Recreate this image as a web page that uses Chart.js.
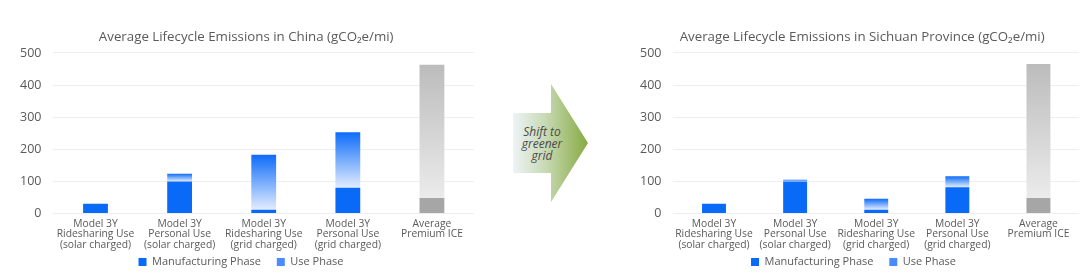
<!DOCTYPE html>
<html>
<head>
<meta charset="utf-8">
<script src="https://cdn.jsdelivr.net/npm/chart.js@4"></script>
<style>
  body { margin: 0; width: 1080px; height: 274px; background: #fff; position: relative; overflow: hidden; }
  #div_china { position: absolute; left: 0; top: 0; width: 508px; height: 274px; }
  #div_sichuan { position: absolute; left: 628px; top: 0; width: 484px; height: 274px; }
  #seta { position: absolute; left: 0; top: 0; }
</style>
</head>
<body>
<svg id="seta" width="1080" height="274">
  <defs>
    <linearGradient id="grad_seta" x1="513" y1="0" x2="588" y2="0" gradientUnits="userSpaceOnUse">
      <stop offset="0" stop-color="#eef3f7"/>
      <stop offset="0.45" stop-color="#c6d8b0"/>
      <stop offset="1" stop-color="#86aa42"/>
    </linearGradient>
  </defs>
  <polygon points="513,113 551,113 551,84 588,143 551,202 551,173 513,173" fill="url(#grad_seta)"/>
  <g font-family="Open Sans" font-style="italic" font-size="12" fill="#4a4a4a" text-anchor="middle">
    <text x="542" y="136">Shift to</text>
    <text x="542" y="148">greener</text>
    <text x="542" y="160">grid</text>
  </g>
</svg>
<div id="div_china"><canvas id="graf_china"></canvas></div>
<div id="div_sichuan"><canvas id="graf_sichuan"></canvas></div>
<script>
// categorias do eixo x (3 linhas cada)
const categorias = [
  ["Model 3Y", "Ridesharing Use", "(solar charged)"],
  ["Model 3Y", "Personal Use", "(solar charged)"],
  ["Model 3Y", "Ridesharing Use", "(grid charged)"],
  ["Model 3Y", "Personal Use", "(grid charged)"],
  ["Average", "Premium ICE"],
];

// China
const manufaturaChina = [30, 100, 12, 80, 48];
const usoChina = [0, 24, 171, 173, 415];

// Sichuan
const manufaturaSichuan = [30, 100, 12, 82, 48];
const usoSichuan = [0, 5, 34, 34, 418];

const ticksY = [0, 100, 200, 300, 400, 500];

const corTexto = "#5a5a5a";
const fonte = "Open Sans";

function corManufatura(ctx) {
  if (ctx.dataIndex === categorias.length - 1) return "#a6a6a6";
  return "#0a6af8";
}

function corUso(ctx, manuf, uso) {
  const i = ctx.dataIndex;
  const ice = i === categorias.length - 1;
  const chart = ctx.chart;
  const padrao = ice ? "#cccccc" : "#3f86ff";
  if (ctx.type !== "data" || !chart.chartArea || !chart.scales.y) return padrao;
  const y = chart.scales.y;
  const topo = y.getPixelForValue(manuf[i] + uso[i]);
  const base = y.getPixelForValue(manuf[i]);
  if (!isFinite(topo) || !isFinite(base) || topo === base) return padrao;
  const g = chart.ctx.createLinearGradient(0, topo, 0, base);
  if (ice) {
    g.addColorStop(0, "#bcbcbc");
    g.addColorStop(1, "#ebebeb");
  } else {
    g.addColorStop(0, "#0d6cf9");
    g.addColorStop(1, "#e3edff");
  }
  return g;
}

function criarGrafico(id, titulo, manuf, uso, padding) {
  const dados = {
    labels: categorias,
    datasets: [
      {
        label: "Manufacturing Phase",
        data: manuf,
        backgroundColor: corManufatura,
        barPercentage: 1,
        categoryPercentage: 0.295,
      },
      {
        label: "Use Phase",
        data: uso,
        backgroundColor: (ctx) => corUso(ctx, manuf, uso),
        barPercentage: 1,
        categoryPercentage: 0.295,
      },
    ],
  };

  const config = {
    type: "bar",
    data: dados,
    options: {
      responsive: true,
      maintainAspectRatio: false,
      animation: false,
      layout: { padding: padding },
      plugins: {
        title: {
          display: true,
          text: titulo,
          color: corTexto,
          font: { family: fonte, size: 13.3, weight: "normal" },
          padding: { top: 29, bottom: 8 },
        },
        legend: {
          position: "bottom",
          labels: {
            color: corTexto,
            font: { family: fonte, size: 11 },
            boxWidth: 8,
            boxHeight: 8,
            padding: 1.5,
            // espaco extra no fim do primeiro item separa as duas entradas
            generateLabels: () => [
              { text: "Manufacturing Phase     ", fillStyle: "#0a6af8", strokeStyle: "#0a6af8", lineWidth: 0, datasetIndex: 0, fontColor: corTexto },
              { text: "Use Phase", fillStyle: "#4a8cff", strokeStyle: "#4a8cff", lineWidth: 0, datasetIndex: 1, fontColor: corTexto },
            ],
          },
        },
        tooltip: { enabled: false },
      },
      scales: {
        x: {
          stacked: true,
          grid: { display: false, drawTicks: false },
          border: { display: false },
          ticks: {
            color: corTexto,
            font: { family: fonte, size: 10.3, lineHeight: "10.5px" },
            padding: 5,
            maxRotation: 0,
            autoSkip: false,
          },
        },
        y: {
          stacked: true,
          min: ticksY[0],
          max: ticksY[ticksY.length - 1],
          afterBuildTicks: (escala) => {
            escala.ticks = ticksY.map((v) => ({ value: v }));
          },
          grid: { color: "#eeeeee", drawTicks: false },
          border: { display: false },
          ticks: {
            color: corTexto,
            font: { family: fonte, size: 12.5 },
            padding: 12,
          },
        },
      },
    },
  };

  return new Chart(document.getElementById(id), config);
}

const graficoChina = criarGrafico(
  "graf_china",
  "   Average Lifecycle Emissions in China (gCO₂e/mi)",
  manufaturaChina,
  usoChina,
  { left: 8, right: 34, bottom: -3.5 }
);

const graficoSichuan = criarGrafico(
  "graf_sichuan",
  "     Average Lifecycle Emissions in Sichuan Province (gCO₂e/mi)",
  manufaturaSichuan,
  usoSichuan,
  { left: 0, right: 33, bottom: -3.5 }
);
</script>
</body>
</html>
